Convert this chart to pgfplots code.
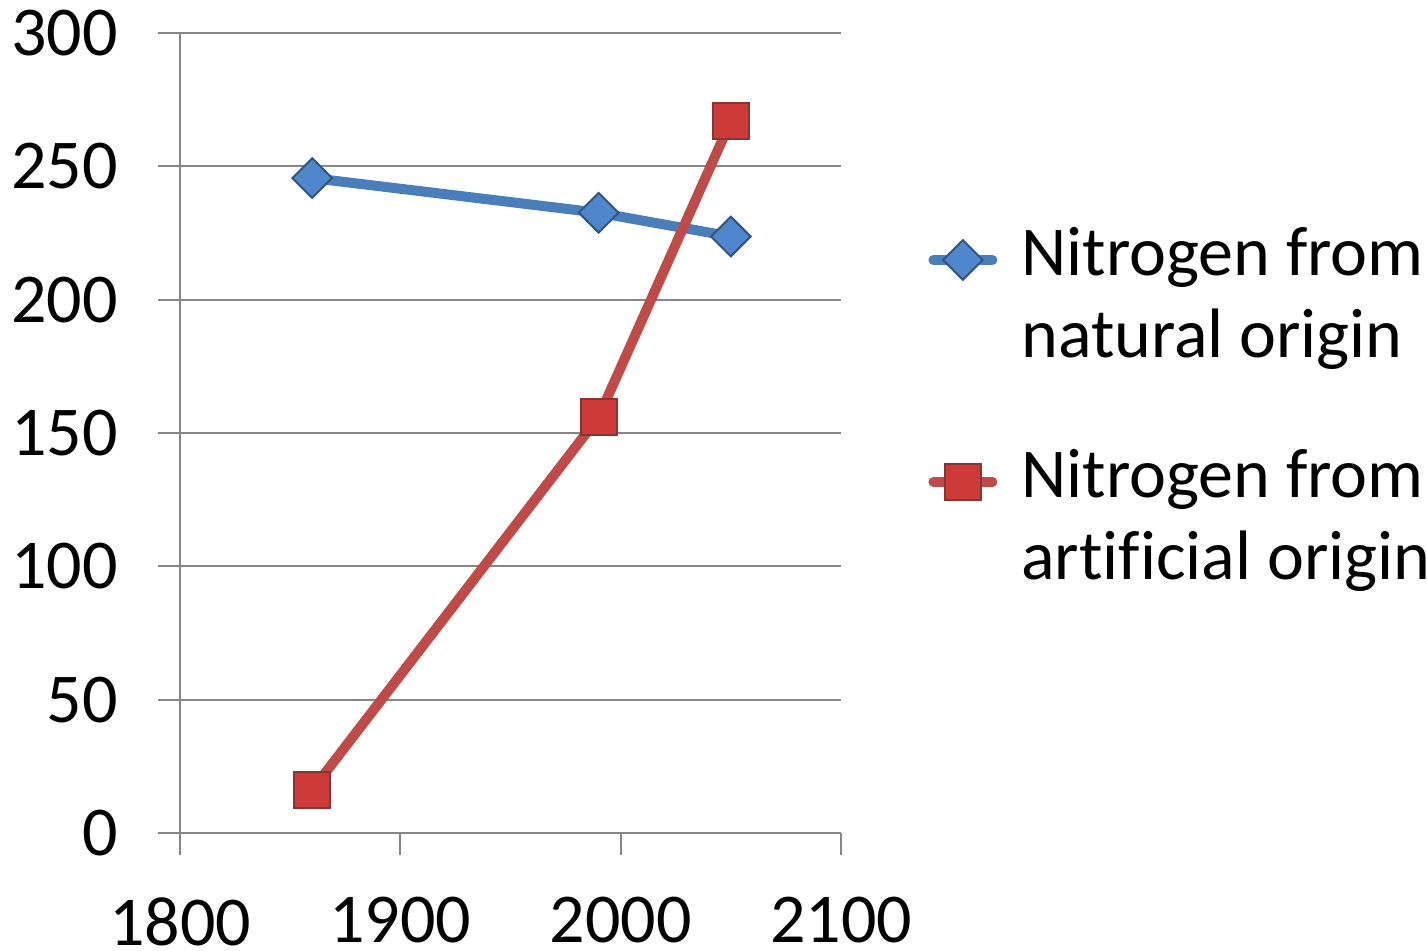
\documentclass[border=0pt]{standalone}
\usepackage{pgfplots}
\pgfplotsset{compat=1.18}
\usepackage{fontspec}
\setmainfont{Carlito}[Ligatures=NoCommon]
\definecolor{nblue}{HTML}{4A7EBB}
\definecolor{nred}{HTML}{BE4B48}
\definecolor{mblue}{HTML}{4F86CC}
\definecolor{mblueedge}{HTML}{2F5580}
\definecolor{mred}{HTML}{CC3B38}
\definecolor{mrededge}{HTML}{873432}
\definecolor{gridgray}{HTML}{868686}
\pgfplotstableread{
x y
1860 245.6
1990 232.6
2050 223.7
}\natural
\pgfplotstableread{
x y
1860 16.2
1990 156.0
2050 267.0
}\artificial
\begin{document}
\fontsize{35}{41}\selectfont
\begin{tikzpicture}
\begin{axis}[
  scale only axis, width=330.5pt, height=400pt,
  xmin=1800, xmax=2100, ymin=0, ymax=300,
  xtick={1800,1900,2000,2100}, ytick={0,50,...,300},
  axis x line=bottom, axis y line=left,
  axis line style={-, gridgray, line width=1pt},
  ymajorgrids, major grid style={gridgray, line width=1pt},
  tick align=outside, major tick length=11pt,
  tick style={gridgray, line width=1pt},
  /pgf/number format/assume math mode=true,
  /pgf/number format/1000 sep={},
  ticklabel style={font=\fontsize{35}{41}\selectfont},
  yticklabel style={anchor=east, inner sep=0pt, xshift=-20pt},
  xticklabel style={anchor=north, inner sep=0pt, yshift=-21pt},
  clip=false,
  legend style={at={(rel axis cs:1,1)}, anchor=north west, xshift=43.5pt, yshift=-92.3pt,
    draw=none, fill=none, inner sep=0pt, row sep=77pt, column sep=12pt,
    nodes={inner sep=0pt, font=\fontsize{35}{41}\selectfont}},
  legend cell align=left,
  legend image code/.code={\draw[mark repeat=2, mark phase=2, line cap=round, #1]
     plot coordinates {(2.5pt,-4pt)(17.25pt,-4pt)(32pt,-4pt)};},
]
\addplot[nblue, line width=5pt, mark=square*, mark size=7pt,
  mark options={rotate=45, fill=mblue, draw=mblueedge, line width=1pt, solid}]
  table[x=x, y=y] {\natural};
\addlegendentry{\begin{tabular}[t]{@{}l@{}}Nitrogen from\\natural origin\end{tabular}}
\addplot[nred, line width=5pt, mark=square*, mark size=9pt,
  mark options={fill=mred, draw=mrededge, line width=1pt, solid}]
  table[x=x, y=y] {\artificial};
\addlegendentry{\begin{tabular}[t]{@{}l@{}}Nitrogen from\\artificial origin\end{tabular}}
\coordinate (O) at (rel axis cs:0,0);
\end{axis}
\pgfresetboundingbox
\useasboundingbox ([xshift=-90pt, yshift=-58.5pt]O) rectangle ++(713.5pt,475pt);
\end{tikzpicture}
\end{document}
